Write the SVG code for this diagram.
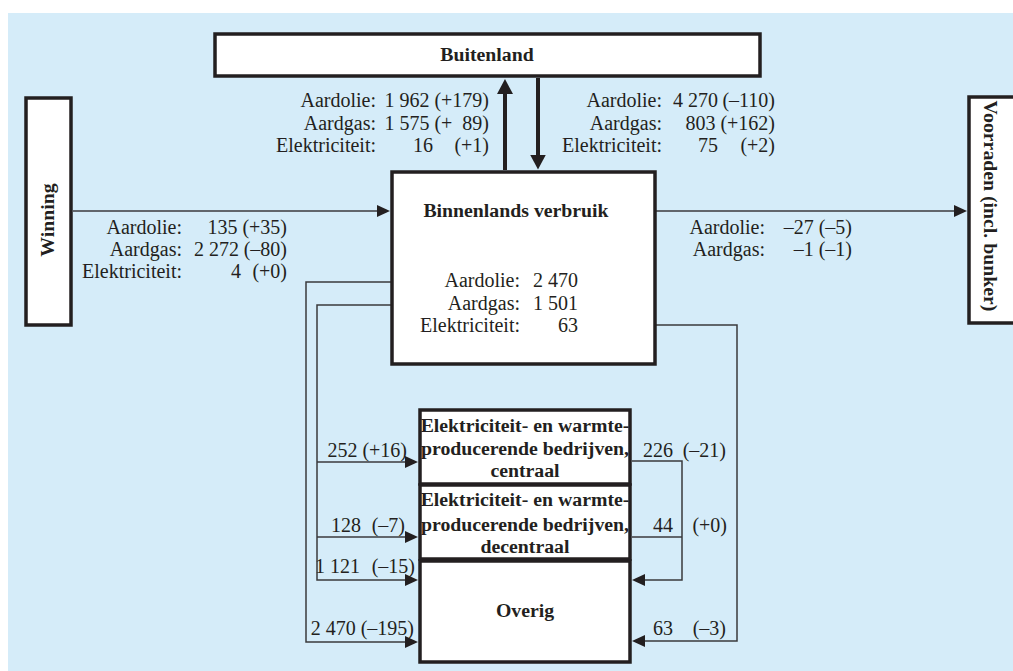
<svg xmlns="http://www.w3.org/2000/svg" width="1013" height="671" viewBox="0 0 1013 671">
  <defs>
    <marker id="ah" viewBox="0 0 13 12" refX="0.5" refY="6" markerUnits="userSpaceOnUse" markerWidth="13" markerHeight="12" orient="auto">
      <path d="M0,0 L13,6 L0,12 z" fill="#231f20"/>
    </marker>
    <marker id="ahb" viewBox="0 0 15 16" refX="0.5" refY="8" markerUnits="userSpaceOnUse" markerWidth="15" markerHeight="16" orient="auto">
      <path d="M0,0 L15,8 L0,16 z" fill="#231f20"/>
    </marker>
  </defs>
  <style>
    .box { fill: #ffffff; stroke: #231f20; stroke-width: 3.5; }
    .t { font-family: "Liberation Serif", "Times New Roman", serif; font-size: 20px; fill: #231f20; }
    .b { font-family: "Liberation Serif", "Times New Roman", serif; font-size: 19.8px; font-weight: bold; fill: #231f20; }
    .e { text-anchor: end; }
    .m { text-anchor: middle; }
    .thin { fill: none; stroke: #3a3a3c; stroke-width: 1.5; }
    .thick { fill: none; stroke: #231f20; stroke-width: 4; }
  </style>
  <rect x="8" y="13" width="1005" height="658" fill="#d5ecf9"/>

  <g id="connectors">
    <line class="thin" x1="73" y1="211" x2="377.5" y2="211" marker-end="url(#ah)"/>
    <line class="thin" x1="650" y1="211" x2="954.5" y2="211" marker-end="url(#ah)"/>
    <line class="thick" x1="505" y1="170" x2="505" y2="93.5" marker-end="url(#ahb)"/>
    <line class="thick" x1="538" y1="78" x2="538" y2="155" marker-end="url(#ahb)"/>
    <path class="thin" d="M408,282 H306 V642 H405.5" marker-end="url(#ah)"/>
    <path class="thin" d="M408,305 H317 V580 H405.5" marker-end="url(#ah)"/>
    <path class="thin" d="M317,462 H405.5" marker-end="url(#ah)"/>
    <path class="thin" d="M317,537 H405.5" marker-end="url(#ah)"/>
    <path class="thin" d="M633,325 H737 V641 H644.5" marker-end="url(#ah)"/>
    <path class="thin" d="M632,461 H682 V580 H644.5" marker-end="url(#ah)"/>
    <path class="thin" d="M632,537 H682"/>
  </g>

  <g id="buitenland">
    <rect class="box" x="215" y="34" width="545" height="42"/>
    <text class="b m" x="487" y="61">Buitenland</text>
  </g>

  <g id="winning">
    <rect class="box" x="26" y="98" width="45" height="227"/>
    <text class="b m" transform="translate(54,220) rotate(-90)">Winning</text>
  </g>

  <g id="voorraden">
    <rect class="box" x="969" y="97" width="50" height="226"/>
    <text class="b m" transform="translate(984,206) rotate(90)">Voorraden (incl. bunker)</text>
  </g>

  <g id="binnenlands">
    <rect class="box" x="392" y="172" width="263" height="192"/>
    <text class="b m" x="516" y="217">Binnenlands verbruik</text>
    <text class="t e" x="520" y="287">Aardolie:</text>
    <text class="t e" x="578" y="287">2 470</text>
    <text class="t e" x="520" y="309.5">Aardgas:</text>
    <text class="t e" x="578" y="309.5">1 501</text>
    <text class="t e" x="520" y="332">Elektriciteit:</text>
    <text class="t e" x="578" y="332">63</text>
  </g>

  <g id="centraal">
    <rect class="box" x="420" y="410" width="210" height="74"/>
    <text class="b m" x="525" y="432">Elektriciteit- en warmte-</text>
    <text class="b m" x="525" y="455">producerende bedrijven,</text>
    <text class="b m" x="525" y="477">centraal</text>
  </g>

  <g id="decentraal">
    <rect class="box" x="420" y="485" width="210" height="74"/>
    <text class="b m" x="525" y="506">Elektriciteit- en warmte-</text>
    <text class="b m" x="525" y="531">producerende bedrijven,</text>
    <text class="b m" x="525" y="553">decentraal</text>
  </g>

  <g id="overig">
    <rect class="box" x="420" y="561" width="210" height="101"/>
    <text class="b m" x="525" y="617">Overig</text>
  </g>

  <g id="labels-export">
    <text class="t e" x="376" y="107">Aardolie:</text>
    <text class="t e" x="489" y="107">1 962 (+179)</text>
    <text class="t e" x="376" y="129.5">Aardgas:</text>
    <text class="t e" x="489" y="129.5">1 575 (+&#160;&#160;89)</text>
    <text class="t e" x="376" y="152">Elektriciteit:</text>
    <text class="t e" x="433" y="152">16</text>
    <text class="t e" x="489" y="152">(+1)</text>
  </g>

  <g id="labels-import">
    <text class="t e" x="662" y="107">Aardolie:</text>
    <text class="t e" x="718" y="107">4 270</text>
    <text class="t e" x="775" y="107">(–110)</text>
    <text class="t e" x="662" y="129.5">Aardgas:</text>
    <text class="t e" x="775" y="129.5">803 (+162)</text>
    <text class="t e" x="662" y="152">Elektriciteit:</text>
    <text class="t e" x="718" y="152">75</text>
    <text class="t e" x="775" y="152">(+2)</text>
  </g>

  <g id="labels-winning">
    <text class="t e" x="182" y="234">Aardolie:</text>
    <text class="t e" x="287" y="234">135 (+35)</text>
    <text class="t e" x="182" y="256">Aardgas:</text>
    <text class="t e" x="239" y="256">2 272</text>
    <text class="t e" x="287" y="256">(–80)</text>
    <text class="t e" x="182" y="278">Elektriciteit:</text>
    <text class="t e" x="241" y="278">4</text>
    <text class="t e" x="287" y="278">(+0)</text>
  </g>

  <g id="labels-voorraden">
    <text class="t e" x="765" y="234">Aardolie:</text>
    <text class="t e" x="852" y="234">–27 (–5)</text>
    <text class="t e" x="765" y="256">Aardgas:</text>
    <text class="t e" x="852" y="256">–1 (–1)</text>
  </g>

  <g id="labels-bottom">
    <text class="t e" x="407" y="457">252 (+16)</text>
    <text class="t e" x="361" y="532">128</text>
    <text class="t e" x="405" y="532">(–7)</text>
    <text class="t e" x="360" y="573">1 121</text>
    <text class="t e" x="415" y="573">(–15)</text>
    <text class="t e" x="414" y="635">2 470 (–195)</text>
    <text class="t e" x="673" y="457">226</text>
    <text class="t e" x="726" y="457">(–21)</text>
    <text class="t e" x="673" y="532">44</text>
    <text class="t e" x="727" y="532">(+0)</text>
    <text class="t e" x="673" y="635">63</text>
    <text class="t e" x="726" y="635">(–3)</text>
  </g>
</svg>
